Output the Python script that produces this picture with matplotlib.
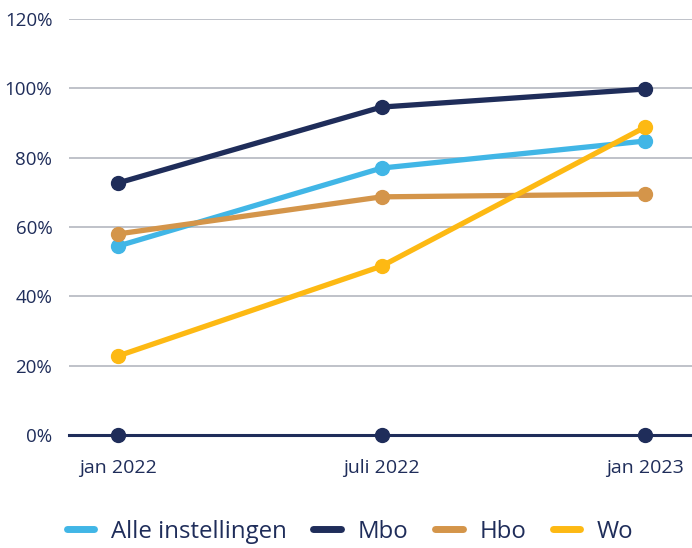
import matplotlib
matplotlib.use("Agg")
import matplotlib.pyplot as plt
from matplotlib.ticker import FuncFormatter
from matplotlib.lines import Line2D

categories = ["jan 2022", "juli 2022", "jan 2023"]
alle = [54.5, 77.0, 84.8]
mbo = [72.7, 94.6, 99.8]
hbo = [58.0, 68.7, 69.5]
wo = [22.8, 48.7, 88.8]
base = [0, 0, 0]
yticks = [0, 20, 40, 60, 80, 100, 120]

navy = "#1f2d5a"
blue = "#41b6e6"
tan = "#d4954a"
yellow = "#fdb913"

plt.rcParams['font.family'] = ['Open Sans', 'DejaVu Sans']

fig = plt.figure(figsize=(6.92, 5.48), dpi=100)
ax = fig.add_axes([0.0997, 0.2062, 0.9003, 0.7591])

x = list(range(len(categories)))
series = [(alle, blue, "Alle instellingen"), (mbo, navy, "Mbo"),
          (hbo, tan, "Hbo"), (wo, yellow, "Wo")]
for vals, col, lab in series:
    ax.plot(x, vals, color=col, lw=3.8, marker="o", ms=10,
            solid_capstyle="round", zorder=3)
ax.plot(x, base, color=navy, lw=0, marker="o", ms=10, zorder=5, clip_on=False)

ax.set_ylim(0, 120)
ax.set_xlim(-0.186, 2.178)
ax.set_yticks(yticks)
ax.yaxis.set_major_formatter(FuncFormatter(lambda v, p: f"{int(v)}%"))
ax.set_xticks(x)
ax.set_xticklabels(categories)
ax.grid(axis="y", color="#b4b8c0", lw=1.2)
ax.set_axisbelow(True)
for s in ["top", "right", "left"]:
    ax.spines[s].set_visible(False)
ax.spines["bottom"].set_color(navy)
ax.spines["bottom"].set_linewidth(2.2)
ax.spines["bottom"].set_zorder(2.5)
ax.tick_params(axis="x", length=0, colors=navy, labelsize=14, pad=17)
ax.tick_params(axis="y", length=0, colors=navy, labelsize=13.5, pad=12)

handles = [Line2D([], [], color=col, lw=5, solid_capstyle="round") for _, col, _ in series]
labels = [lab for _, _, lab in series]
leg = fig.legend(handles, labels, loc="center", bbox_to_anchor=(0.506, 0.03), ncol=4,
                 frameon=False, fontsize=17.3, handlelength=1.15, columnspacing=1.1,
                 handletextpad=0.7)
for t in leg.get_texts():
    t.set_color(navy)

fig.savefig("out.png", dpi=100)
